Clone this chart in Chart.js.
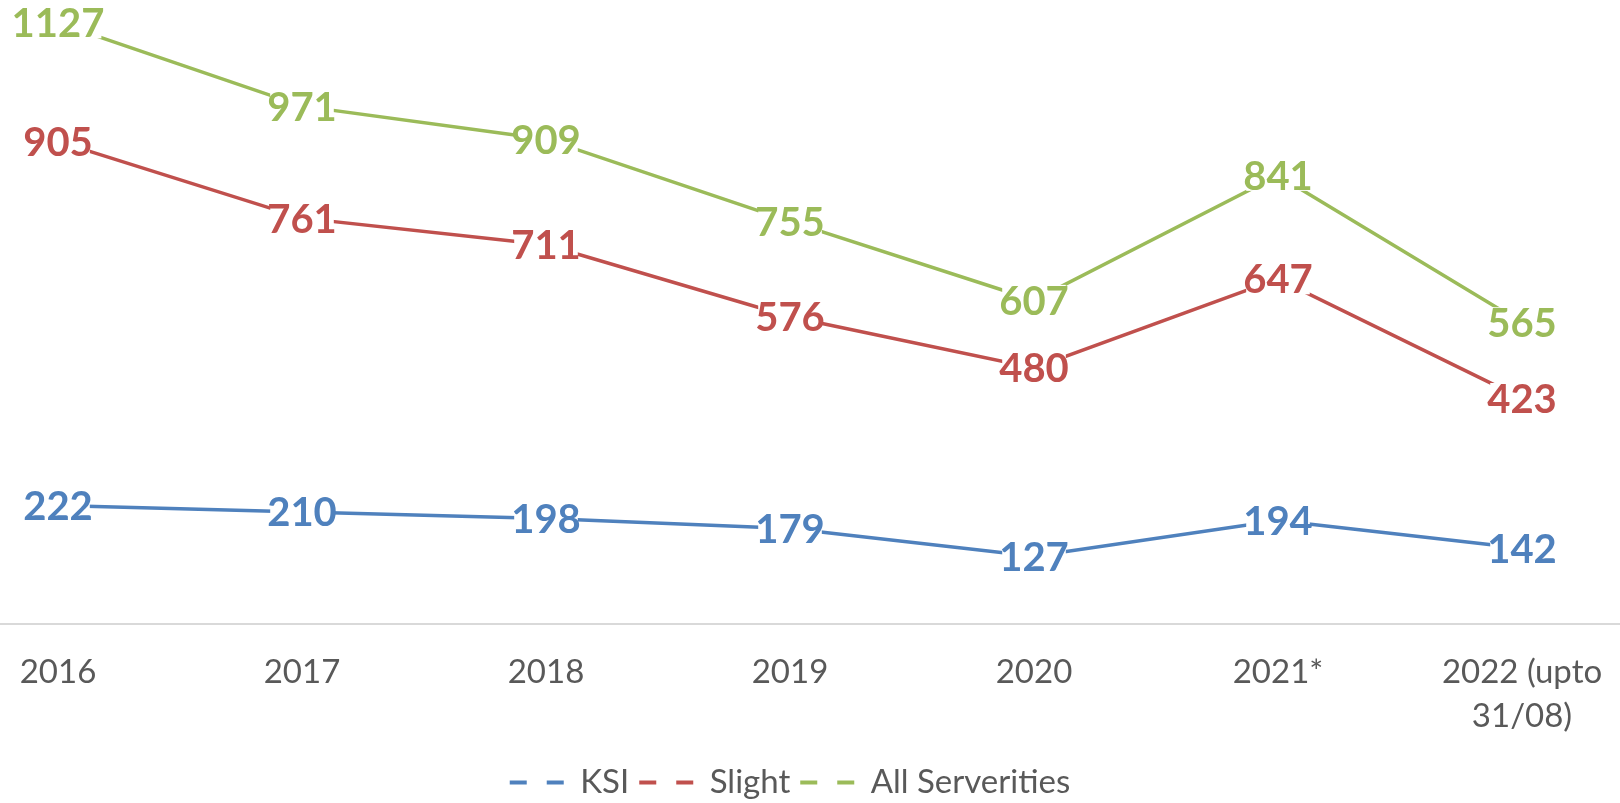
<!DOCTYPE html>
<html>
<head>
<meta charset="utf-8">
<script src="https://cdn.jsdelivr.net/npm/chart.js@4.4.0/dist/chart.umd.min.js"></script>
<style>
  html, body { margin: 0; padding: 0; background: #fff; overflow: hidden; width: 1620px; height: 803px; }
  #c { position: absolute; left: -64px; top: -16px; }
</style>
</head>
<body>
<canvas id="c" width="1708" height="830"></canvas>
<script>
const categories = ['2016', '2017', '2018', '2019', '2020', '2021*', ['2022 (upto', '31/08)']];
const ksi = [222, 210, 198, 179, 127, 194, 142];
const slight = [905, 761, 711, 576, 480, 647, 423];
const allSeverities = [1127, 971, 909, 755, 607, 841, 565];
const seriesNames = ['KSI', 'Slight', 'All Serverities'];
const seriesColors = ['#4F81BD', '#C0504D', '#9BBB59'];

const LABEL_SIZE = 40;
const TEXT_SIZE = 33;

const valueLabels = {
  id: 'valueLabels',
  afterDatasetsDraw(chart) {
    const ctx = chart.ctx;
    ctx.save();
    ctx.font = 'bold ' + LABEL_SIZE + 'px Lato';
    const cap = LABEL_SIZE * 0.72;
    const items = [];
    chart.data.datasets.forEach((ds, i) => {
      const meta = chart.getDatasetMeta(i);
      meta.data.forEach((pt, j) => {
        const txt = String(ds.data[j]);
        const w = ctx.measureText(txt).width;
        items.push({ x: pt.x, y: pt.y, txt, w, color: ds.borderColor });
      });
    });
    ctx.fillStyle = '#ffffff';
    items.forEach(it => {
      ctx.fillRect(it.x - it.w / 2 + 3, it.y - cap / 2 - 1, it.w - 6, cap + 2);
    });
    ctx.textAlign = 'center';
    ctx.textBaseline = 'alphabetic';
    items.forEach(it => {
      ctx.fillStyle = it.color;
      ctx.fillText(it.txt, it.x, it.y + cap / 2);
    });
    ctx.restore();
  }
};

const datasets = [ksi, slight, allSeverities].map((d, i) => ({
  label: seriesNames[i],
  data: d,
  borderColor: seriesColors[i],
  backgroundColor: seriesColors[i],
  borderWidth: 3.5,
  pointRadius: 0,
  pointHoverRadius: 0,
  tension: 0,
  fill: false
}));

new Chart(document.getElementById('c'), {
  type: 'line',
  data: { labels: categories, datasets },
  plugins: [valueLabels],
  options: {
    responsive: false,
    animation: false,
    events: [],
    layout: { padding: { top: 0, left: 0, right: 0, bottom: 5 } },
    plugins: {
      tooltip: { enabled: false },
      legend: {
        position: 'bottom',
        labels: {
          usePointStyle: true,
          pointStyleWidth: 54,
          boxHeight: 10,
          padding: 10,
          color: '#595959',
          font: { family: 'Lato', size: TEXT_SIZE },
          generateLabels(chart) {
            return chart.data.datasets.map((ds, i) => ({
              text: ds.label,
              fillStyle: ds.borderColor,
              strokeStyle: ds.borderColor,
              lineWidth: 4,
              lineDash: [17, 20],
              lineCap: 'butt',
              pointStyle: 'line',
              fontColor: '#595959',
              datasetIndex: i,
              hidden: false
            }));
          }
        }
      }
    },
    scales: {
      x: {
        offset: true,
        grid: { display: false, drawTicks: false },
        border: { display: true, color: '#D9D9D9', width: 2 },
        ticks: {
          color: '#595959',
          padding: 27,
          maxRotation: 0,
          autoSkip: false,
          font: { family: 'Lato', size: TEXT_SIZE, lineHeight: 1.32 }
        },
        afterFit(scale) { scale.height = 132; }
      },
      y: {
        display: false,
        min: 0,
        max: 1200
      }
    }
  }
});
</script>
</body>
</html>
